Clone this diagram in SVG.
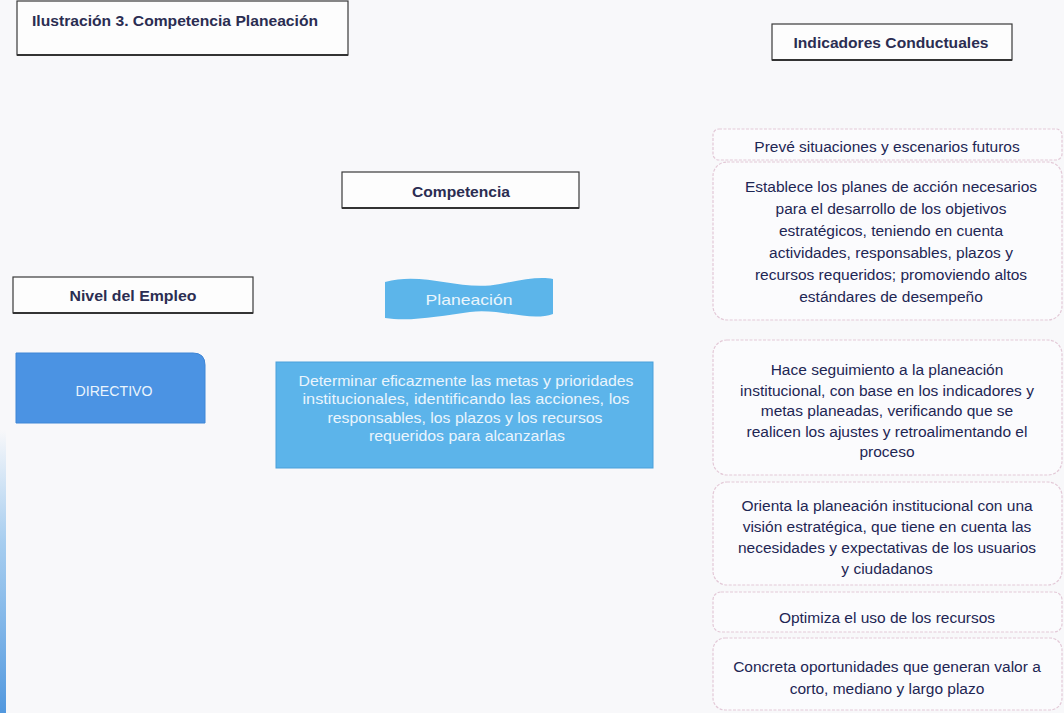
<svg xmlns="http://www.w3.org/2000/svg" width="1064" height="713" viewBox="0 0 1064 713">
<defs>
<style>
.hdr{fill:#fdfdfd;stroke:#3a3a3a;stroke-width:1.2}
.hl{font-family:"Liberation Sans",Arial,sans-serif;font-weight:bold;font-size:15px;fill:#2b2d52;text-anchor:middle}
.ind{fill:#fbfbfd;stroke:#e3c9d7;stroke-width:1.2;stroke-dasharray:3 1.5}
.it{font-family:"Liberation Sans",Arial,sans-serif;font-size:15.5px;fill:#1e2654;text-anchor:middle}
.wt{font-family:"Liberation Sans",Arial,sans-serif;font-size:15px;fill:#eaf5fd;text-anchor:middle}
</style>
<linearGradient id="edge" x1="0" y1="0" x2="0" y2="1">
<stop offset="0" stop-color="#6fb0e8" stop-opacity="0"/>
<stop offset="0.4" stop-color="#6fb0e8" stop-opacity="0.6"/>
<stop offset="1" stop-color="#3f8ddb" stop-opacity="0.9"/>
</linearGradient>
</defs>
<rect x="0" y="0" width="1064" height="713" fill="#f8f8fa"/>
<rect x="0" y="430" width="6" height="283" fill="url(#edge)"/>

<g id="title">
<rect class="hdr" x="17" y="1" width="331" height="54"/>
<line x1="17" y1="55" x2="348" y2="55" stroke="#333" stroke-width="2"/>
<text class="hl" x="175" y="26" textLength="286" lengthAdjust="spacingAndGlyphs">Ilustración 3. Competencia Planeación</text>
</g>

<g id="indicadores-header">
<rect class="hdr" x="772" y="24" width="240" height="36"/>
<line x1="772" y1="60" x2="1012" y2="60" stroke="#333" stroke-width="2"/>
<text class="hl" x="891" y="48" textLength="195" lengthAdjust="spacingAndGlyphs">Indicadores Conductuales</text>
</g>

<g id="competencia-header">
<rect class="hdr" x="342" y="172" width="237" height="36"/>
<line x1="342" y1="208" x2="579" y2="208" stroke="#333" stroke-width="2"/>
<text class="hl" x="461" y="197" textLength="98" lengthAdjust="spacingAndGlyphs">Competencia</text>
</g>

<g id="nivel-header">
<rect class="hdr" x="13" y="277" width="240" height="36"/>
<line x1="13" y1="313" x2="253" y2="313" stroke="#333" stroke-width="2"/>
<text class="hl" x="133" y="301" textLength="127" lengthAdjust="spacingAndGlyphs">Nivel del Empleo</text>
</g>

<g id="directivo">
<path d="M16,353 H193 Q205,353 205,365 V423 H16 Z" fill="#4b93e3" stroke="#3f86d6" stroke-width="1"/>
<text class="wt" x="114" y="396" textLength="77" lengthAdjust="spacingAndGlyphs">DIRECTIVO</text>
</g>

<g id="planeacion">
<path d="M385,282 C425,271 460,292 500,284 C520,280 540,276 553,279 V314 C530,322 500,308 470,312 C440,316 410,322 385,318 Z" fill="#5cb5ea"/>
<text class="wt" x="469" y="305" textLength="87" lengthAdjust="spacingAndGlyphs">Planeación</text>
</g>

<g id="definicion">
<rect x="276" y="362" width="377" height="106" fill="#5cb4ea" stroke="#4aa0da" stroke-width="1"/>
<text class="wt" x="466" y="386" textLength="335" lengthAdjust="spacingAndGlyphs">Determinar eficazmente las metas y prioridades</text>
<text class="wt" x="466" y="404" textLength="327" lengthAdjust="spacingAndGlyphs">institucionales, identificando las acciones, los</text>
<text class="wt" x="465" y="423" textLength="275" lengthAdjust="spacingAndGlyphs">responsables, los plazos y los recursos</text>
<text class="wt" x="467" y="441" textLength="196" lengthAdjust="spacingAndGlyphs">requeridos para alcanzarlas</text>
</g>

<g id="ind1">
<rect class="ind" x="713" y="129" width="349" height="31" rx="6"/>
<text class="it" x="887" y="152">Prevé situaciones y escenarios futuros</text>
</g>

<g id="ind2">
<rect class="ind" x="713" y="162" width="349" height="158" rx="14"/>
<text class="it" x="891" y="192">Establece los planes de acción necesarios</text>
<text class="it" x="891" y="214">para el desarrollo de los objetivos</text>
<text class="it" x="891" y="236">estratégicos, teniendo en cuenta</text>
<text class="it" x="891" y="258">actividades, responsables, plazos y</text>
<text class="it" x="891" y="280">recursos requeridos; promoviendo altos</text>
<text class="it" x="891" y="302">estándares de desempeño</text>
</g>

<g id="ind3">
<rect class="ind" x="713" y="340" width="349" height="135" rx="14"/>
<text class="it" x="887" y="375">Hace seguimiento a la planeación</text>
<text class="it" x="887" y="396">institucional, con base en los indicadores y</text>
<text class="it" x="887" y="416">metas planeadas, verificando que se</text>
<text class="it" x="887" y="437">realicen los ajustes y retroalimentando el</text>
<text class="it" x="887" y="457">proceso</text>
</g>

<g id="ind4">
<rect class="ind" x="713" y="482" width="349" height="103" rx="14"/>
<text class="it" x="887" y="511">Orienta la planeación institucional con una</text>
<text class="it" x="887" y="532">visión estratégica, que tiene en cuenta las</text>
<text class="it" x="887" y="553">necesidades y expectativas de los usuarios</text>
<text class="it" x="887" y="574">y ciudadanos</text>
</g>

<g id="ind5">
<rect class="ind" x="713" y="592" width="349" height="40" rx="8"/>
<text class="it" x="887" y="623">Optimiza el uso de los recursos</text>
</g>

<g id="ind6">
<rect class="ind" x="713" y="638" width="349" height="72" rx="12"/>
<text class="it" x="887" y="672">Concreta oportunidades que generan valor a</text>
<text class="it" x="887" y="694">corto, mediano y largo plazo</text>
</g>

<g id="connectors"></g>
</svg>
